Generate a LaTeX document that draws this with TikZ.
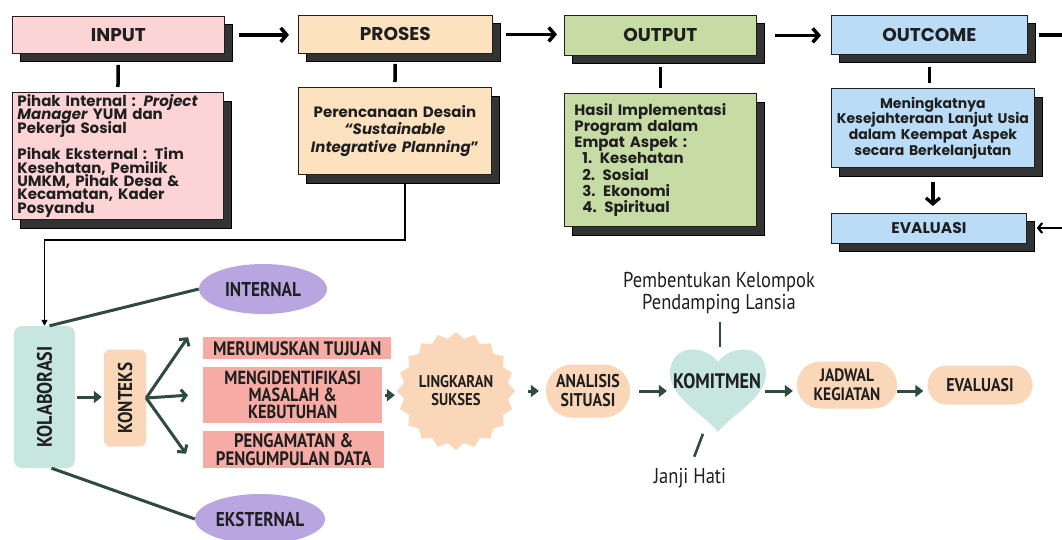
\documentclass[tikz,border=0pt]{standalone}
\usepackage{fontspec}
\setmainfont{Poppins}
\newfontfamily\hand[FakeStretch=0.86]{PT Sans}
\usetikzlibrary{arrows.meta,shapes.geometric,shadows}
\definecolor{pinkc}{HTML}{FCD4D5}
\definecolor{peachc}{HTML}{FDE2C0}
\definecolor{greenc}{HTML}{C7DCA5}
\definecolor{bluec}{HTML}{BADCF7}
\definecolor{shadc}{HTML}{333333}
\definecolor{mintc}{HTML}{C6E6DF}
\definecolor{purpc}{HTML}{B9A6E1}
\definecolor{peachb}{HTML}{FAD7B9}
\definecolor{salmc}{HTML}{F7ABA5}
\definecolor{arrg}{HTML}{2F4A3E}
\definecolor{inkc}{HTML}{1F1F1F}
\newcommand{\tightlines}{\lineskiplimit=-50pt\lineskip=0pt}
\begin{document}
\begin{tikzpicture}[x=1pt,y=-1pt,
  hdr/.style={draw=inkc, line width=0.8pt, anchor=north west, inner sep=0pt, text=inkc,
    font=\bfseries\fontsize{18.5}{20}\selectfont,
    drop shadow={shadow xshift=8pt,shadow yshift=-8pt,fill=shadc,draw=black,line width=0.6pt,opacity=1}},
  det/.style={draw=inkc, line width=0.8pt, anchor=north west, inner ysep=0pt, text=inkc,
    drop shadow={shadow xshift=8pt,shadow yshift=-9pt,fill=shadc,draw=black,line width=0.6pt,opacity=1}},
  vline/.style={line width=3.5pt, draw=black},
  toparr/.style={line width=3.5pt, draw=black, -{Straight Barb[length=6pt,width=14pt]}},
  gline/.style={line width=3pt, draw=arrg},
  garr/.style={line width=3pt, draw=arrg, -{Triangle[length=8pt,width=12pt]}},
  barr/.style={line width=3pt, draw=arrg, -{Straight Barb[length=5pt,width=12pt]}},
  hnode/.style={text=inkc, inner sep=0pt, align=center},
  pill/.style={fill=peachb, inner sep=0pt, align=center, text=inkc},
  sbox/.style={fill=salmc, anchor=north west, inner sep=0pt, align=center, text=inkc}
]
\useasboundingbox (0,0) rectangle (1062,540);
\fill[white] (0,0) rectangle (1062,540);

% ---------- top row ----------
\node[hdr, fill=pinkc, minimum width=212, minimum height=37] (input) at (12,16) {INPUT};
\node[hdr, fill=peachc, minimum width=194, minimum height=38] (proses) at (298,15) {PROSES};
\node[hdr, fill=greenc, minimum width=192, minimum height=40] (output) at (564,15) {OUTPUT};
\node[hdr, fill=bluec, minimum width=196, minimum height=39] (outcome) at (831,15) {OUTCOME};

\node[det, fill=pinkc, minimum width=211, minimum height=127, inner xsep=5pt, text width=201, align=left,
  font=\bfseries\fontsize{15}{13.4}\selectfont\tightlines] (inputd) at (12,92)
  {Pihak Internal : \textit{Project}\\ \textit{Manager} YUM dan\\ Pekerja Sosial\\[13pt]
   Pihak Eksternal : Tim\\ Kesehatan, Pemilik\\ UMKM, Pihak Desa \&\\ Kecamatan, Kader\\ Posyandu};
\node[det, fill=peachc, minimum width=193, minimum height=87, inner xsep=5pt, text width=183, align=center,
  font=\bfseries\fontsize{15}{17.5}\selectfont\tightlines] (prosesd) at (298,87)
  {Perencanaan Desain\\ \textit{“Sustainable}\\ \textit{Integrative Planning}”};
\node[det, fill=greenc, minimum width=192, minimum height=133, inner xsep=10pt, text width=172, align=left,
  font=\bfseries\fontsize{15}{16.3}\selectfont\tightlines] (outputd) at (564,93)
  {Hasil Implementasi\\ Program dalam\\ Empat Aspek :\\ \hspace*{8pt}1. Kesehatan\\ \hspace*{8pt}2. Sosial\\
   \hspace*{8pt}3. Ekonomi\\ \hspace*{8pt}4. Spiritual};
\node[det, fill=bluec, minimum width=203, minimum height=79, inner xsep=3pt, text width=197, align=center,
  font=\bfseries\fontsize{14}{15.6}\selectfont\tightlines] (outcomed) at (831,88)
  {Meningkatnya\\ Kesejahteraan Lanjut Usia\\ dalam Keempat Aspek\\ secara Berkelanjutan};
\node[hdr, fill=bluec, minimum width=195, minimum height=30, font=\bfseries\fontsize{15.5}{17}\selectfont] (evalt) at (831,213) {EVALUASI};

\draw[toparr, shorten <=14pt, shorten >=9pt] (input.east) -- (input.east -| proses.west);
\draw[toparr, shorten <=13pt, shorten >=7pt] (proses.east) -- (proses.east -| output.west);
\draw[toparr, shorten <=18pt, shorten >=10pt] (output.east) -- (output.east -| outcome.west);
\coordinate (rtop) at (1062,37);
\coordinate (reval) at (1062,228);
\draw[line width=3.5pt, shorten <=11pt] (outcome.east) -- (outcome.east -| rtop);
\draw[line width=2.2pt, -{Straight Barb[length=4pt,width=10pt]}, shorten >=10pt] (reval) -- (reval -| evalt.east);

\draw[vline, shorten <=11pt, shorten >=5pt] (input.south) -- (inputd.north);
\draw[vline, shorten <=10pt, shorten >=5pt] (proses.south) -- (prosesd.north);
\draw[vline, shorten <=11pt, shorten >=5pt] (output.south) -- (outputd.north);
\draw[vline, shorten <=12pt, shorten >=5pt] (outcome.south) -- (outcome.south |- outcomed.north);
\draw[line width=3.2pt, -{Straight Barb[length=6pt,width=14pt]}, shorten <=14pt, shorten >=7pt] (outcomed.south) -- (outcomed.south |- evalt.north);

% ---------- bottom ----------
\node[fill=mintc, rounded corners=8pt, minimum width=61, minimum height=142, inner sep=0pt, text=inkc,
  font=\hand\bfseries\fontsize{21}{23}\selectfont] (kolab) at (44.5,397) {\rotatebox{90}{KOLABORASI}};
\node[fill=peachb, rounded corners=6pt, minimum width=42, minimum height=97, inner sep=0pt, text=inkc,
  font=\hand\bfseries\fontsize{20}{22}\selectfont] (konteks) at (125,398) {\rotatebox{90}{KONTEKS}};
\node[ellipse, fill=purpc, minimum width=128, minimum height=50, inner sep=0pt, text=inkc,
  font=\hand\bfseries\fontsize{20}{22}\selectfont] (internal) at (263,289) {INTERNAL};
\node[ellipse, fill=purpc, minimum width=130, minimum height=50, inner sep=0pt, text=inkc,
  font=\hand\bfseries\fontsize{20}{22}\selectfont] (eksternal) at (260,519) {EKSTERNAL};

\draw[line width=1.6pt, -{Triangle[length=6pt,width=6pt]}, shorten <=9pt]
  ([xshift=10pt]prosesd.south) -- ++(0,65) -| (kolab.north);

\draw[gline] ([xshift=5pt]kolab.north) -- (internal.west);
\draw[gline] ([xshift=7pt]kolab.south) -- (eksternal.west);
\draw[garr, shorten <=2pt, shorten >=2pt] (kolab.east) -- (kolab.east -| konteks.west);

\node[sbox, minimum width=188, minimum height=22, font=\hand\bfseries\fontsize{19.5}{19}\selectfont] (m1) at (203,337) {MERUMUSKAN TUJUAN};
\node[sbox, minimum width=179, minimum height=56, font=\hand\bfseries\fontsize{19}{17}\selectfont\tightlines] (m2) at (203,367) {MENGIDENTIFIKASI\\ MASALAH \&\\ KEBUTUHAN};
\node[sbox, minimum width=181, minimum height=37, font=\hand\bfseries\fontsize{19.5}{17.5}\selectfont\tightlines] (m3) at (203,431) {PENGAMATAN \&\\ PENGUMPULAN DATA};

\draw[barr] (konteks.east) -- ([xshift=-15pt,yshift=11pt]m1.west);
\draw[barr] (konteks.east) -- ([xshift=-15pt]m2.west);
\draw[barr] (konteks.east) -- ([xshift=-17pt,yshift=-4pt]m3.west);

\node[star, star points=20, star point ratio=1.12, minimum size=94, inner sep=0pt, fill=peachb, text=inkc,
  align=center, font=\hand\bfseries\fontsize{17}{18}\selectfont\tightlines] (ling) at (456,391) {LINGKARAN\\ SUKSES};
\draw[garr, shorten <=3pt, shorten >=2pt] (m2.east) -- (m2.east -| ling.west);

\node[pill, minimum width=84, minimum height=53, rounded corners=26pt, font=\hand\bfseries\fontsize{18.5}{19}\selectfont\tightlines] (analisis) at (588,391) {ANALISIS\\ SITUASI};
\draw[garr, shorten <=13pt, shorten >=7pt] (ling.east |- analisis.west) -- (analisis.west);

% heart
\fill[mintc] (718,362) .. controls (706,345) and (670,342) .. (670,374)
  .. controls (670,398) and (705,415) .. (718,432)
  .. controls (731,415) and (766,398) .. (766,374)
  .. controls (766,342) and (730,345) .. (718,362) -- cycle;
\node[hnode, minimum width=96, font=\hand\bfseries\fontsize{21}{22}\selectfont] (komit) at (717,381) {KOMITMEN};
\coordinate (htop) at (720,349);
\coordinate (hbot) at (704,431);
\node[hnode, font=\hand\fontsize{21.5}{22}\selectfont\tightlines] (pemb) at (719,293) {Pembentukan Kelompok\\ Pendamping Lansia};
\node[hnode, font=\hand\fontsize{21.5}{22}\selectfont] (janji) at (690,478) {Janji Hati};
\draw[gline, line width=2.6pt, shorten <=8pt, shorten >=2pt] (pemb.south -| htop) -- (htop);
\draw[gline, line width=2.6pt, shorten <=3pt, shorten >=12pt] (hbot) -- (janji.north);

\draw[garr, shorten <=9pt, shorten >=2pt] (analisis.east) -- (analisis.east -| komit.west);

\node[pill, minimum width=100, minimum height=47, rounded corners=23pt, font=\hand\bfseries\fontsize{18}{19}\selectfont\tightlines] (jadwal) at (847,385) {JADWAL\\ KEGIATAN};
\node[pill, minimum width=105, minimum height=39, rounded corners=19pt, font=\hand\bfseries\fontsize{18.5}{19}\selectfont] (evalb) at (980,385) {EVALUASI};
\draw[garr, shorten >=4pt] (analisis.east -| komit.east) -- (analisis.east -| jadwal.west);
\draw[garr, shorten >=4pt] (analisis.east -| jadwal.east) -- (analisis.east -| evalb.west);
\end{tikzpicture}
\end{document}
